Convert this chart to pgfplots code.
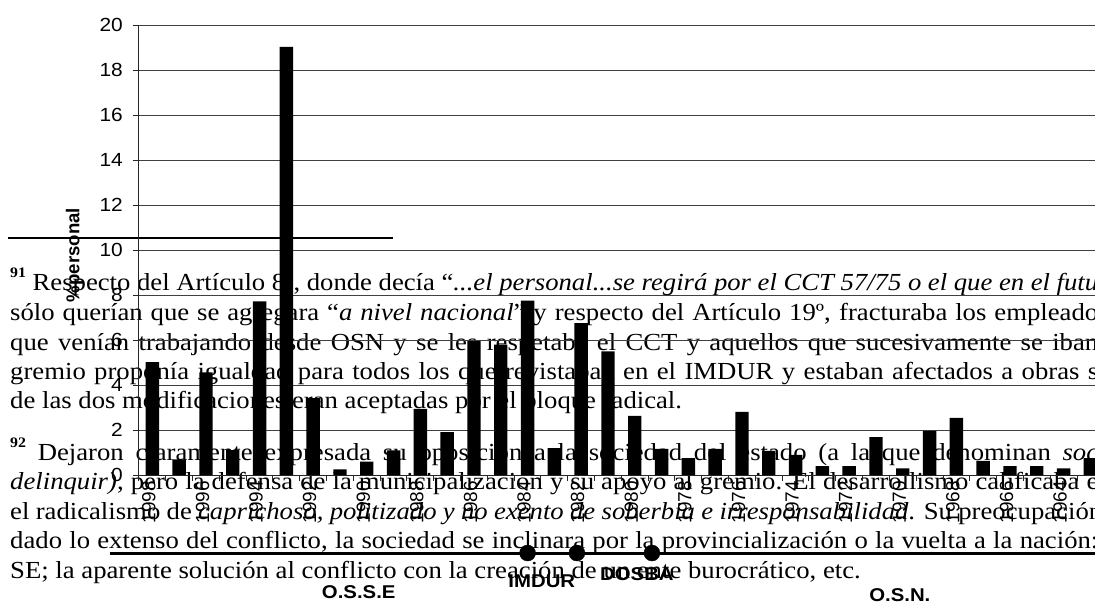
\documentclass[border=0pt]{standalone}
\usepackage{fontspec}
\usepackage{pgfplots}
\pgfplotsset{compat=1.18}
\newfontfamily\tnr{Liberation Serif}[FakeStretch=1.09]
\newfontfamily\arl{Liberation Sans}[FakeStretch=1.1]
\newfontfamily\arlr{Liberation Sans}
\newcommand{\txt}{\tnr\fontsize{24.5}{29}\selectfont}
\newcommand{\fsup}[1]{\raisebox{13pt}{\fontsize{14.5}{15}\selectfont\bfseries #1}}
\newcommand{\tl}[3]{\node[anchor=base west, inner sep=0pt] at (#1pt,-#2pt) {\txt #3};}
\newcommand{\jl}[4]{\node[anchor=base west, inner sep=0pt] at (#1pt,-#2pt) {\txt\hbox to #3pt{#4}};}
\begin{document}
\begin{tikzpicture}
\useasboundingbox (0pt,0pt) rectangle (1095pt,-603pt);
\clip (0pt,0pt) rectangle (1095pt,-603pt);
\fill[white] (0pt,0pt) rectangle (1095pt,-603pt);
% footnote rule
\draw[line width=1.8pt] (8pt,-237.7pt) -- (393pt,-237.7pt);
% footnote 91
\jl{10}{290.7}{1088}{\fsup{91} Respecto del Artículo 8º, donde decía “\textit{...el personal...se regirá por el CCT 57/75 o el que en el futu}}
\jl{10}{320.5}{1088}{sólo querían que se agregara “\textit{a nivel nacional}” y respecto del Artículo 19º, fracturaba los empleado}
\jl{10}{350}{1088}{que venían trabajando desde OSN y se les respetaba el CCT y aquellos que sucesivamente se iban}
\jl{10}{379.3}{1088}{gremio proponía igualdad para todos los que revistaban en el IMDUR y estaban afectados a obras s}
\tl{10}{408.5}{de las dos modificaciones eran aceptadas por el bloque radical.}
% footnote 92
\jl{10}{460}{1088}{\fsup{92} Dejaron claramente expresada su oposición a la sociedad del estado (a la que denominan \textit{soc}}
\jl{10}{489.5}{1088}{\textit{delinquir)}, pero la defensa de la municipalización y su apoyo al gremio. El desarrollismo calificaba e}
\jl{10}{519}{1092}{el radicalismo de \textit{caprichoso, politizado y no exento de soberbia e irresponsabilidad}. Su preocupación}
\jl{10}{548.5}{1088}{dado lo extenso del conflicto, la sociedad se inclinara por la provincialización o la vuelta a la nación:}
\tl{10}{578}{SE; la aparente solución al conflicto con la creación de un ente burocrático, etc.}
\begin{axis}[
  at={(139pt,-475pt)}, anchor=south west,
  scale only axis, width=964.8pt, height=450pt,
  xmin=1962.5, xmax=1998.5, x dir=reverse,
  ymin=0, ymax=20,
  ytick={0,2,...,20},
  xtick={1962.5,1963.5,...,1998.5}, xticklabels={},
  extra x ticks={1998,1996,1994,1992,1990,1988,1986,1984,1982,1980,1978,1976,1974,1972,1970,1968,1966,1964},
  extra x tick labels={1998,1996,1994,1992,1990,1988,1986,1984,1982,1980,1978,1976,1974,1972,1970,1968,1966,1964},
  extra x tick style={major tick length=0pt},
  xticklabel style={xshift=-3.5pt, yshift=-6pt, rotate=90, anchor=east, inner sep=0pt, font=\arlr\fontsize{19}{20}\selectfont},
  yticklabel style={inner sep=0pt, anchor=east, xshift=-10pt, font=\arl\fontsize{19}{20}\selectfont},
  /pgf/number format/assume math mode=true,
  axis x line*=bottom, axis y line*=left,
  axis line style={-, black!85, line width=1pt},
  ymajorgrids, grid style={black!75, line width=0.9pt},
  tick align=outside, major tick length=6pt, tick style={black!85, line width=1pt},
  clip=false,
]
\addplot[ybar, bar width=13.4pt, fill=black, draw=none] coordinates {
(1998,5.02) (1997,0.70) (1996,4.56) (1995,1.11) (1994,7.72) (1993,19.03)
(1992,3.42) (1991,0.25) (1990,0.6) (1989,1.1) (1988,2.94) (1987,1.91)
(1986,5.95) (1985,5.8) (1984,7.75) (1983,1.19) (1982,6.75) (1981,5.5)
(1980,2.63) (1979,1.16) (1978,0.75) (1977,1.16) (1976,2.81) (1975,1.07)
(1974,0.90) (1973,0.4) (1972,0.4) (1971,1.68) (1970,0.3) (1969,1.96)
(1968,2.54) (1967,0.63) (1966,0.4) (1965,0.4) (1964,0.3) (1963,0.75)
};
\addplot[black, line width=3pt, mark=none] coordinates {(1999.6,-3.467) (1960,-3.467)};
\addplot[only marks, mark=*, mark size=8pt, black] coordinates {(1984,-3.467) (1982.16,-3.467) (1979.36,-3.467)};
\node[anchor=base, font=\arl\bfseries\fontsize{18.5}{20}\selectfont] at (axis cs:1983.47,-5.02) {IMDUR};
\node[anchor=base, font=\arl\bfseries\fontsize{18.5}{20}\selectfont] at (axis cs:1979.92,-4.67) {DOSBA};
\node[anchor=base, font=\arl\bfseries\fontsize{18.5}{20}\selectfont] at (axis cs:1990.30,-5.51) {O.S.S.E};
\node[anchor=base, font=\arl\bfseries\fontsize{18.5}{20}\selectfont] at (axis cs:1970.11,-5.64) {O.S.N.};
\end{axis}
\node[rotate=90, anchor=center, inner sep=0pt, font=\arlr\bfseries\fontsize{18.6}{20}\selectfont] at (74.5pt,-255pt) {\%personal};
\end{tikzpicture}
\end{document}
